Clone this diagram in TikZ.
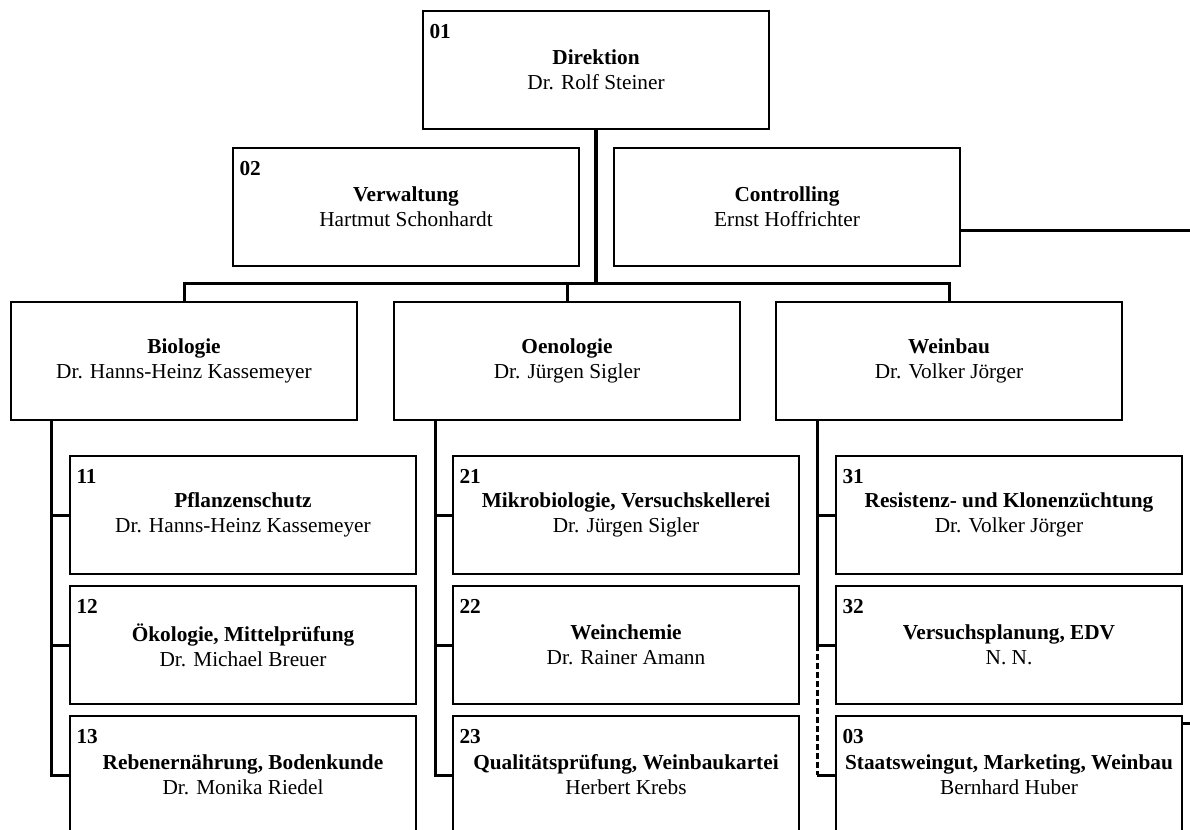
\documentclass[tikz,border=0pt]{standalone}
\usepackage{fontspec}
\setmainfont{Liberation Serif}
\usetikzlibrary{calc}
\begin{document}
\begin{tikzpicture}[x=1pt,y=-1pt,
		orgbox/.style={draw,line width=1.4pt,minimum width=346pt,minimum height=118pt,inner sep=0pt,align=center,
			font=\fontsize{21.3}{25}\selectfont},
		numtag/.style={anchor=north west,inner sep=0pt,xshift=7pt,yshift=-14pt,font=\fontsize{21.3}{25}\selectfont\bfseries},
		conn/.style={line width=3pt}]
		\useasboundingbox (0,0) rectangle (1190,829);
		% Leitung
		\node[orgbox] (dir) at (596,70) {\textbf{Direktion}\\Dr. Rolf Steiner};
		\node[numtag] (ndir) at (dir.north west) {01};
		\node[orgbox] (verw) at (406,207) {\textbf{Verwaltung}\\Hartmut Schonhardt};
		\node[numtag] (nverw) at (verw.north west) {02};
		\node[orgbox] (ctrl) at (787,207) {\textbf{Controlling}\\Ernst Hoffrichter};
		% Abteilungen
		\node[orgbox] (bio) at (184,361) {\textbf{Biologie}\\Dr. Hanns-Heinz Kassemeyer};
		\node[orgbox] (oen) at (567,361) {\textbf{Oenologie}\\Dr. Jürgen Sigler};
		\node[orgbox] (wei) at (949,361) {\textbf{Weinbau}\\Dr. Volker Jörger};
		% Referate
		\foreach \n/\x/\y/\t/\p in {
			11/243/515/Pflanzenschutz/Dr. Hanns-Heinz Kassemeyer,
			12/243/645/{Ökologie, Mittelprüfung}/Dr. Michael Breuer,
			13/243/775/{Rebenernährung, Bodenkunde}/Dr. Monika Riedel,
			21/626/515/{Mikrobiologie, Versuchskellerei}/Dr. Jürgen Sigler,
			22/626/645/Weinchemie/Dr. Rainer Amann,
			23/626/775/{Qualitätsprüfung, Weinbaukartei}/Herbert Krebs,
			31/1009/515/Resistenz- und Klonenzüchtung/Dr. Volker Jörger,
			32/1009/645/{Versuchsplanung, EDV}/N. N.,
			03/1009/775/{Staatsweingut, Marketing, Weinbau}/Bernhard Huber}
		{
			\node[orgbox] (b\n) at (\x,\y) {\textbf{\t}\\\p};
			\node[numtag] (n\n) at (b\n.north west) {\n};
		}
		% Linien
		\coordinate (bus) at (597,283);
		\draw[line width=4pt] (dir.south) -- (dir.south |- bus);
		\draw[conn] (bio.north) |- (wei.north |- bus) -- (wei.north);
		\draw[conn] (oen.north) -- (oen.north |- bus);
		\coordinate (ctrlR) at (1190,230);
		\draw[conn] (ctrlR -| ctrl.east) -- (ctrlR);
		\coordinate (bioL) at ([xshift=41pt]bio.south west);
		\coordinate (oenL) at ([xshift=42pt]oen.south west);
		\coordinate (weiL) at ([xshift=42pt]wei.south west);
		\draw[conn] (bioL) |- (b13.west);
		\draw[conn] (oenL) |- (b23.west);
		\foreach \b/\c in {b11/bioL,b12/bioL,b21/oenL,b22/oenL,b31/weiL}
			\draw[conn] (\b.west) -- (\b.west -| \c);
		\draw[conn] (weiL) |- (b32.west);
		\draw[line width=2.6pt,dash pattern=on 6pt off 3pt] (b32.west -| weiL) -- (b03.west -| weiL);
		\draw[conn] (b03.west -| weiL) -- (b03.west);
		\coordinate (b03R) at (1190,723);
		\draw[conn] (b03R -| b03.east) -- (b03R);
	\end{tikzpicture}
\end{document}
